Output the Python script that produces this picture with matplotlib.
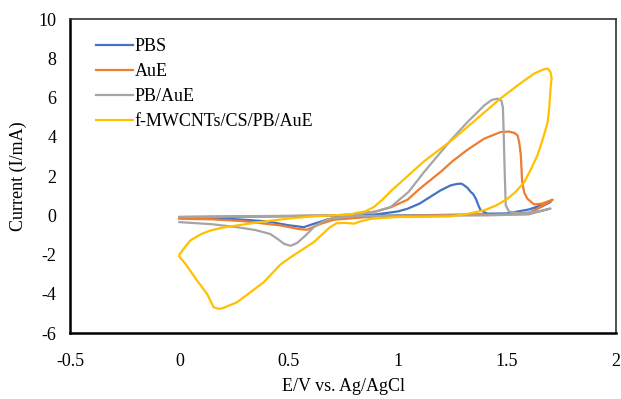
import matplotlib
matplotlib.use("Agg")
import matplotlib.pyplot as plt

plt.rcParams['font.family'] = ['Liberation Serif', 'DejaVu Serif']
plt.rcParams['axes.unicode_minus'] = False

# PBS
pbs_E = [0, 0.5, 0.8, 0.9, 1.0, 1.045, 1.1, 1.15, 1.197, 1.243, 1.27, 1.29, 1.30, 1.32, 1.335, 1.345, 1.358, 1.37, 1.38,
         1.41, 1.5, 1.6, 1.70,
         1.6, 1.5, 1.0, 0.75, 0.68, 0.615, 0.57, 0.5, 0.4, 0.2, 0.0]
pbs_I = [-0.08, -0.04, 0.0, 0.05, 0.2, 0.34, 0.6, 0.95, 1.28, 1.53, 1.6, 1.62, 1.57, 1.4, 1.19, 1.1, 0.85, 0.5, 0.26,
         0.09, 0.1, 0.3, 0.68,
         0.12, 0.06, 0.0, -0.05, -0.2, -0.43, -0.6, -0.5, -0.3, -0.15, -0.12]

# AuE
aue_E = [0, 0.4, 0.7, 0.8, 0.9, 0.97, 1.045, 1.1, 1.2, 1.25, 1.32, 1.396, 1.472, 1.51, 1.535, 1.549, 1.557, 1.564, 1.57,
         1.58, 1.594, 1.625, 1.66, 1.71,
         1.6, 1.4, 1.1, 0.9, 0.708, 0.647, 0.585, 0.55, 0.463, 0.29, 0.15, 0.0]
aue_I = [-0.1, -0.05, 0.0, 0.05, 0.2, 0.42, 0.8, 1.35, 2.25, 2.75, 3.35, 3.91, 4.25, 4.27, 4.2, 4.08, 3.7, 3.06, 1.7,
         1.15, 0.85, 0.56, 0.6, 0.8,
         0.08, 0.04, 0.0, -0.05, -0.22, -0.43, -0.73, -0.7, -0.51, -0.29, -0.2, -0.17]

# PB/AuE
pb_E = [0, 0.4, 0.7, 0.8, 0.9, 0.968, 1.05, 1.12, 1.243, 1.32, 1.396, 1.43, 1.457, 1.475, 1.482, 1.486, 1.488, 1.492,
        1.495, 1.51, 1.55, 1.6, 1.65, 1.70,
        1.6, 1.4, 1.0, 0.8, 0.7, 0.66, 0.62, 0.58, 0.54, 0.51, 0.48, 0.45, 0.417, 0.35, 0.265, 0.15, 0.0]
pb_I = [-0.08, -0.03, 0.0, 0.03, 0.2, 0.43, 1.2, 2.2, 3.83, 4.76, 5.6, 5.88, 5.95, 5.85, 5.5, 4.0, 3.06, 1.5,
        0.51, 0.2, 0.12, 0.15, 0.22, 0.35,
        0.05, 0.0, -0.02, -0.03, -0.15, -0.3, -0.55, -1.0, -1.4, -1.55, -1.45, -1.2, -0.95, -0.75, -0.6, -0.45, -0.34]

# f-MWCNTs/CS/PB/AuE
cnt_E = [0.0, 0.02, 0.05, 0.1, 0.142, 0.2, 0.265, 0.35, 0.417, 0.51, 0.6, 0.7, 0.79, 0.8, 0.85, 0.89, 0.93, 0.97,
         1.05, 1.12, 1.25, 1.35, 1.47, 1.55, 1.625, 1.67, 1.687, 1.70, 1.705, 1.70, 1.695, 1.687, 1.665, 1.64, 1.61,
         1.58, 1.54, 1.503, 1.45, 1.396, 1.32, 1.243, 1.1, 1.0, 0.88, 0.83, 0.8, 0.76, 0.72, 0.69, 0.616, 0.51, 0.463,
         0.387, 0.265, 0.2, 0.18, 0.157, 0.127, 0.08, 0.028, 0.0]
cnt_I = [-2.0, -1.7, -1.28, -0.95, -0.77, -0.62, -0.51, -0.37, -0.27, -0.15, -0.06, 0.0, 0.06, 0.1, 0.2, 0.42, 0.8, 1.25,
         2.05, 2.75, 3.85, 4.8, 5.95, 6.63, 7.23, 7.45, 7.48, 7.3, 7.0, 6.46, 5.6, 4.76, 3.9, 3.06, 2.35,
         1.7, 1.2, 0.85, 0.5, 0.26, 0.08, -0.05, -0.08, -0.08, -0.17, -0.3, -0.42, -0.38, -0.4, -0.6, -1.36, -2.13, -2.5,
         -3.4, -4.42, -4.72, -4.76, -4.68, -4.0, -3.3, -2.47, -2.1]

labels = ["PBS", "AuE", "PB/AuE", "f-MWCNTs/CS/PB/AuE"]
colors = ["#4472C4", "#ED7D31", "#A5A5A5", "#FFC000"]

x_ticks = [-0.5, 0, 0.5, 1, 1.5, 2]
x_ticklabels = ["-0.5", "0", "0.5", "1", "1.5", "2"]
y_ticks = [-6, -4, -2, 0, 2, 4, 6, 8, 10]

fig = plt.figure(figsize=(6.21, 3.99), dpi=100)
ax = fig.add_axes([0.113, 0.165, 0.879, 0.787])

series = [(pbs_E, pbs_I), (aue_E, aue_I), (pb_E, pb_I), (cnt_E, cnt_I)]
for (E, I), lab, c in zip(series, labels, colors):
    ax.plot(E, I, color=c, lw=1.6, label=lab, solid_joinstyle='round')

ax.set_xlim(-0.5, 2)
ax.set_ylim(-6, 10)
ax.set_xticks(x_ticks)
ax.set_xticklabels(x_ticklabels)
ax.set_yticks(y_ticks)
ax.tick_params(length=0, labelsize=13, pad=10)
ax.tick_params(axis='x', pad=14)

for s in ['left', 'bottom']:
    ax.spines[s].set_linewidth(1.8)
    ax.spines[s].set_color('black')
for s in ['top', 'right']:
    ax.spines[s].set_linewidth(1.2)
    ax.spines[s].set_color('#333333')

ax.set_xlabel("E/V vs. Ag/AgCl", fontsize=13, labelpad=6)
ax.set_ylabel("Current (I/mA)", fontsize=13, labelpad=8)

ax.legend(loc='upper left', frameon=False, fontsize=13, handlelength=2.0, handletextpad=0.1,
          labelspacing=0.45, borderaxespad=0.3, bbox_to_anchor=(0.025, 0.98))

fig.savefig("out.png", dpi=100)
